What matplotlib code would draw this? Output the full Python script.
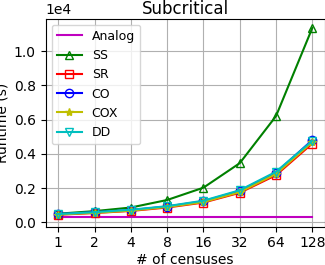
import matplotlib
matplotlib.use("Agg")
import matplotlib.pyplot as plt

censuses = [1, 2, 4, 8, 16, 32, 64, 128]
analog = [300, 300, 300, 300, 300, 300, 300, 300]
ss = [500, 650, 860, 1300, 2020, 3450, 6200, 11350]
sr = [440, 540, 660, 860, 1150, 1720, 2750, 4600]
co = [470, 580, 710, 920, 1230, 1830, 2900, 4800]
cox = [450, 550, 680, 890, 1180, 1760, 2820, 4680]
dd = [480, 590, 730, 940, 1260, 1870, 2950, 4760]

fig, ax = plt.subplots(figsize=(3.25, 2.65), dpi=100)
ax.plot(censuses, analog, 'm-', label='Analog')
ax.plot(censuses, ss, 'g-^', fillstyle='none', label='SS')
ax.plot(censuses, sr, 'r-s', fillstyle='none', label='SR')
ax.plot(censuses, co, 'b-o', fillstyle='none', label='CO')
ax.plot(censuses, cox, 'y-*', label='COX')
ax.plot(censuses, dd, 'c-v', fillstyle='none', label='DD')
ax.set_xscale('log', base=2)
ax.set_xticks(censuses)
ax.set_xticklabels([str(c) for c in censuses])
ax.ticklabel_format(axis='y', style='sci', scilimits=(0, 0))
ax.grid(True)
ax.set_title('Subcritical', pad=3)
ax.set_xlabel('# of censuses', labelpad=2)
ax.set_ylabel('Runtime (s)', labelpad=3)
ax.legend(loc='upper left', fontsize=9)
fig.subplots_adjust(left=0.14, right=1.0, top=0.93, bottom=0.145)
fig.savefig('out.png')
